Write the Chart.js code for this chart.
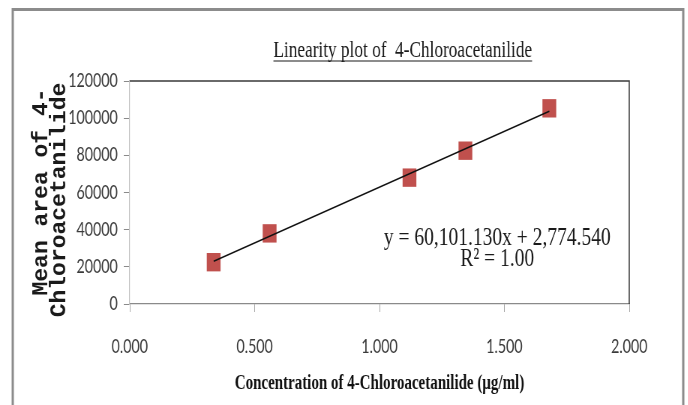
<!DOCTYPE html>
<html>
<head>
<meta charset="utf-8">
<script src="https://cdn.jsdelivr.net/npm/chart.js@4.4.0/dist/chart.umd.min.js"></script>
<style>
  html, body { margin: 0; padding: 0; background: #fff; overflow: hidden; }
  /* the original picture is squeezed sideways; draw wide, then compress */
  #wrap {
    position: absolute; left: 0; top: 0;
    width: 917px; height: 405px;
    transform: scaleX(0.75); transform-origin: 0 0;
  }
</style>
</head>
<body>
<div id="wrap"><canvas id="chart"></canvas></div>
<script>
const concentration = [0.336, 0.56, 1.12, 1.344, 1.68];
const meanArea = [22500, 38000, 68000, 82500, 105300];

// trendline ends, from the printed equation
const trendX = [0.336, 1.68];
const trendY = [22970, 103740];

const xTicks = [0, 0.5, 1, 1.5, 2];
const yTicks = [0, 20000, 40000, 60000, 80000, 100000, 120000];

const TITLE = "Linearity plot of  4-Chloroacetanilide";
const X_TITLE = "Concentration of 4-Chloroacetanilide (µg/ml)";
const Y_TITLE = ["Mean area of 4-", "Chloroacetanilide"];
const EQUATION = ["y = 60,101.130x + 2,774.540", "R² = 1.00"];

const RED = "#c0504d";
const TICK_INK = "#3a3a3a";

// outer frame, plot border, heading, equation, rotated y title
const decor = {
  id: "decor",
  beforeDraw(chart) {
    const ctx = chart.ctx;
    ctx.save();
    ctx.fillStyle = "#fff";
    ctx.fillRect(0, 0, chart.width, chart.height);
    ctx.strokeStyle = "#8c8c8c";
    ctx.lineWidth = 3;
    ctx.strokeRect(17, 9.5, 894, 420);
    ctx.restore();
  },
  afterDraw(chart) {
    const { ctx, chartArea: a } = chart;
    ctx.save();

    ctx.strokeStyle = "#3a3a3a";
    ctx.lineWidth = 1.5;
    ctx.beginPath();
    ctx.moveTo(a.left, a.top);
    ctx.lineTo(a.right, a.top);
    ctx.lineTo(a.right, a.bottom);
    ctx.stroke();

    ctx.fillStyle = "#1a1a1a";
    ctx.font = '23px "Liberation Serif"';
    ctx.textAlign = "center";
    ctx.textBaseline = "alphabetic";
    ctx.fillText(TITLE, 537, 57);
    const w = ctx.measureText(TITLE).width;
    ctx.lineWidth = 1.2;
    ctx.strokeStyle = "#1a1a1a";
    ctx.beginPath();
    ctx.moveTo(537 - w / 2, 61);
    ctx.lineTo(537 + w / 2, 61);
    ctx.stroke();

    ctx.font = '26px "Liberation Serif"';
    ctx.fillText(EQUATION[0], 663, 245);
    ctx.fillText(EQUATION[1], 663, 266);

    ctx.font = 'bold 23px "Liberation Mono", monospace';
    const baseX = [63, 87];
    const midY = [192, 200];
    Y_TITLE.forEach((line, i) => {
      ctx.save();
      ctx.translate(baseX[i], midY[i]);
      ctx.rotate(-Math.PI / 2);
      ctx.scale(1, 1.26);
      ctx.fillText(line, 0, 0);
      ctx.restore();
    });

    ctx.restore();
  },
};

const tickFont = { family: "Lato", size: 19 };

new Chart(document.getElementById("chart"), {
  type: "scatter",
  data: {
    datasets: [
      {
        label: "Linear",
        data: trendX.map((x, i) => ({ x, y: trendY[i] })),
        showLine: true,
        borderColor: "#111",
        borderWidth: 1.6,
        pointRadius: 0,
      },
      {
        label: "Mean area",
        data: concentration.map((x, i) => ({ x, y: meanArea[i] })),
        pointStyle: "rect",
        pointRadius: 13,
        backgroundColor: RED,
        borderColor: RED,
        borderWidth: 0,
      },
    ],
  },
  options: {
    responsive: true,
    maintainAspectRatio: false,
    animation: false,
    layout: { padding: { left: 0, top: 81, right: 78, bottom: 0 } },
    plugins: { legend: { display: false }, tooltip: { enabled: false } },
    scales: {
      x: {
        type: "linear",
        min: xTicks[0],
        max: xTicks[xTicks.length - 1],
        afterBuildTicks: (s) => { s.ticks = xTicks.map((v) => ({ value: v })); },
        afterFit: (s) => { s.height = 101; },
        ticks: {
          font: tickFont,
          color: TICK_INK,
          padding: 23,
          maxRotation: 0,
          callback: (v) => Number(v).toFixed(3),
        },
        grid: { drawOnChartArea: false, tickLength: 8, color: "#a8a8a8" },
        border: { color: "#8a8a8a", width: 1.2 },
        title: {
          display: true,
          text: X_TITLE,
          font: { family: "Liberation Serif", size: 20, weight: "bold" },
          color: "#111",
          padding: { top: 0, bottom: 9 },
        },
      },
      y: {
        min: yTicks[0],
        max: yTicks[yTicks.length - 1],
        afterBuildTicks: (s) => { s.ticks = yTicks.map((v) => ({ value: v })); },
        afterFit: (s) => { s.width = 173; },
        ticks: { font: tickFont, color: TICK_INK, padding: 8, callback: (v) => String(v) },
        grid: { drawOnChartArea: false, tickLength: 8, color: "#8a8a8a" },
        border: { color: "#c4c4c4", width: 1.2 },
      },
    },
  },
  plugins: [decor],
});
</script>
</body>
</html>
